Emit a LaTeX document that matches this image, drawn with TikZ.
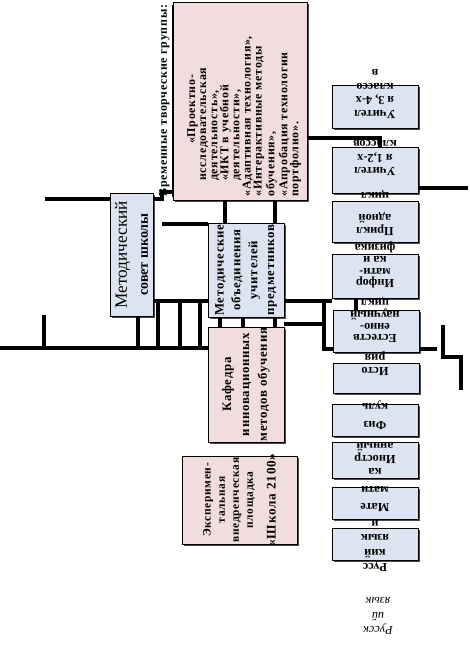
\documentclass[tikz,border=0pt]{standalone}
\usepackage{fontspec}
\setmainfont{Liberation Serif}
\newfontfamily\spaced{Liberation Serif}[LetterSpace=6]
\usetikzlibrary{shadows,fit}
\definecolor{boxblue}{RGB}{219,228,240}
\definecolor{boxpink}{RGB}{241,221,221}
\tikzstyle{box}=[rectangle, draw=black, line width=0.5pt, inner sep=0pt,
        drop shadow={shadow xshift=1.3pt, shadow yshift=-1.3pt, fill=black!70, opacity=1}]
\tikzstyle{bluebox}=[box, fill=boxblue]
\tikzstyle{pinkbox}=[box, fill=boxpink]
\tikzstyle{uptext}=[rotate=90, align=center, inner sep=0pt,
        font=\spaced\bfseries\fontsize{7.3}{10.2}\selectfont]
\tikzstyle{downtext}=[rotate=180, align=center, inner sep=0pt,
        font=\bfseries\fontsize{7}{7.6}\selectfont]
\tikzstyle{link}=[line width=2.2pt]

\begin{document}
\begin{tikzpicture}[x=0.02cm, y=-0.02cm]
    \useasboundingbox (0,0) rectangle (470,660);

    % left part
    \node (groups) [pinkbox, fit={(173,2) (307,200)}] {};
    \node (council) [bluebox, fit={(110,193) (153,316)}] {};
    \node (mo) [bluebox, fit={(208,223) (284,317)}] {};
    \node (kafedra) [pinkbox, fit={(208,327) (284,442)}] {};
    \node (plosch) [pinkbox, fit={(182,456) (297,544)}] {};

    % right column
    \node (cls34) [bluebox, fit={(332,85) (418,128)}] {};
    \node (cls12) [bluebox, fit={(332,147) (418,193)}] {};
    \node (prikl) [bluebox, fit={(332,201) (418,242)}] {};
    \node (inform) [bluebox, fit={(332,254) (418,298)}] {};
    \node (estest) [bluebox, fit={(333,310) (419,352)}] {};
    \node (hist) [bluebox, fit={(333,363) (419,393)}] {};
    \node (phys) [bluebox, fit={(332,404) (418,436)}] {};
    \node (foreign) [bluebox, fit={(332,442) (418,478)}] {};
    \node (math) [bluebox, fit={(332,487) (418,519)}] {};
    \node (russ) [bluebox, fit={(332,528) (418,560)}] {};

    % texts
    \node (groupstitle) [rotate=90, anchor=west, inner sep=0pt,
        font=\spaced\bfseries\fontsize{6.8}{7}\selectfont] at (166,197)
        {\underline{Временные творческие группы:}};
    \node (groupstext) [rotate=90, anchor=north west, align=left, inner sep=0pt,
        font=\spaced\bfseries\fontsize{6.8}{6.3}\selectfont] at (187,197)
        {\hspace*{30pt}«Проектно-\\\hspace*{9pt}исследовательская\\\hspace*{9pt}деятельность»,\\
         \hspace*{9pt}«ИКТ в учебной\\\hspace*{9pt}деятельности»,\\«Адаптивная технология»,\\
         «Интерактивные методы\\обучения»,\\«Апробация технологии\\портфолио».};
    \node (counciltext) [rotate=90, align=center, inner sep=0pt] at (council.center)
        {\fontsize{9.8}{11.3}\selectfont Методический\\
         \bfseries\fontsize{8}{11.3}\selectfont совет школы};
    \node (motext) [uptext, font=\spaced\bfseries\fontsize{7.3}{9.6}\selectfont] at (mo.center)
        {Методические\\объединения\\учителей\\предметников};
    \node (kafedratext) [uptext] at (kafedra.center)
        {Кафедра\\инновационных\\методов обучения};
    \node (ploschtext) [uptext, font=\spaced\bfseries\fontsize{6.5}{8}\selectfont] at (plosch.center)
        {Эксперимен-\\тальная\\внедренческая\\площадка\\[5pt]{\fontsize{7.5}{8}\selectfont«Школа 2100»}};

    \node (cls34text) [downtext] at (375,94) {Учител\\я 3, 4-х\\классо\\в};
    \node (cls12text) [downtext] at (375,158) {Учител\\я 1,2-х\\классов};
    \node (prikltext) [downtext] at (375,213) {Прикл\\адной\\[5pt]цикл};
    \node (informtext) [downtext, font=\bfseries\fontsize{7}{6.8}\selectfont] at (375,265)
        {Инфор\\мати-\\ка и\\физика};
    \node (estesttext) [downtext, font=\bfseries\fontsize{7}{6.8}\selectfont] at (375,320)
        {Естеств\\енно-\\научный\\цикл};
    \node (histtext) [downtext] at (375,364) {Исто\\рия};
    \node (phystext) [downtext, font=\bfseries\fontsize{7}{10}\selectfont] at (375,415) {Физ\\куль};
    \node (foreigntext) [downtext] at (375,453) {Иностр\\анный};
    \node (mathtext) [downtext, font=\bfseries\fontsize{7}{10}\selectfont] at (375,490) {Мате\\мати\\ка};
    \node (russtext) [downtext, font=\bfseries\fontsize{7}{8.3}\selectfont] at (375,546) {Русс\\кий\\язык\\и};
    \node (russfree) [downtext, font=\itshape\fontsize{7}{8}\selectfont] at (378,616) {Русск\\ий\\язык};

    % connections
    \coordinate (leftA) at (45,199);
    \draw[link] (leftA) -- (council.west |- leftA);
    \draw[link] (council.east |- leftA) -- (162,199) |- (groups.west |- 0,192);
    \draw[link] (groups.south -| 225,0) -- (mo.north -| 225,0);
    \draw[link] (groups.south -| 275,0) -- (mo.north -| 275,0);
    \foreach \x in {220,243,275}
        \draw[link] (mo.south -| \x,0) -- (kafedra.north -| \x,0);
    \coordinate (leftB) at (162,224);
    \draw[link] (leftB) -- (mo.west |- leftB);
    \draw[link] (council.east |- 0,301) -- (mo.west |- 0,301);
    \coordinate (leftC) at (0,348);
    \draw[link] (leftC) -- (kafedra.west |- leftC);
    \draw[link] (council.south -| 138,0) -- (138,348);
    \foreach \x in {158,180,200}
        \draw[link] (\x,301) -- (\x,348);
    \draw[link] (44,315) -- (44,348);

    \draw[link] (mo.east |- 0,301) -- (inform.west |- 0,301);
    \draw[link] (324,301) -- (324,349) -- (estest.west |- 0,349);
    \draw[link] (kafedra.east |- 0,324) -- (324,324);
    \draw[link] (inform.south -| 356,0) -- (estest.north -| 356,0);
    \coordinate (rightA) at (437,349);
    \draw[link] (estest.east |- rightA) -- (rightA);
    \draw[link] (443,325) -- (443,357) -- (461,357) -- (461,390);
    \coordinate (rightB) at (468,188);
    \draw[link] (cls12.east |- rightB) -- (rightB);
    \draw[link] (groups.east |- 0,138) -| (cls12.north -| 380,0);
\end{tikzpicture}
\end{document}
